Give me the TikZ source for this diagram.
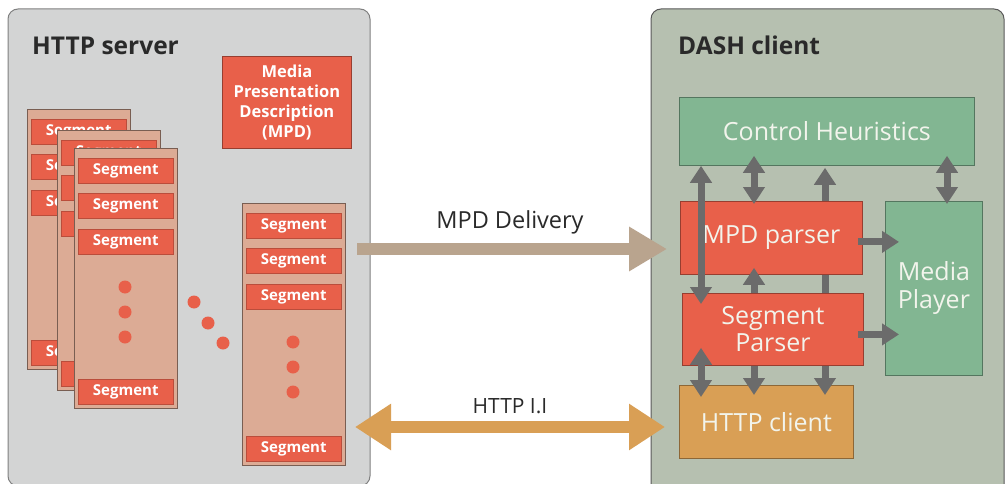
\documentclass[tikz,border=0pt]{standalone}
\usepackage{fontspec}
\setmainfont{Open Sans}
\usetikzlibrary{arrows.meta,positioning}

\definecolor{srvgray}{HTML}{D3D4D4}
\definecolor{cltgreen}{HTML}{B6C0B0}
\definecolor{segred}{HTML}{E8604A}
\definecolor{stacktan}{HTML}{DCAB95}
\definecolor{dlvtan}{HTML}{B9A48E}
\definecolor{httpgold}{HTML}{D99F55}
\definecolor{ctrlgreen}{HTML}{82B692}
\definecolor{arrgray}{HTML}{6B6B6B}
\definecolor{inkgray}{HTML}{2A2A2A}
\definecolor{paper}{HTML}{F2F4EC}

\tikzset{
  title/.style={anchor=base west, inner sep=0pt, text=inkgray, font=\bfseries\fontsize{24.5}{24.5}\selectfont},
  stackbox/.style={draw=stacktan!55!black, line width=0.8pt, fill=stacktan, minimum width=103pt, minimum height=260pt, inner sep=0pt, anchor=north west},
  segbox/.style={draw=segred!80!black, line width=0.5pt, fill=segred, text=white, font=\bfseries\fontsize{15}{15}\selectfont, minimum width=95pt, minimum height=25pt, inner sep=0pt, anchor=north west},
  block/.style={draw=#1!65!black, line width=0.8pt, fill=#1, text=paper, inner sep=0pt, anchor=north west, align=center, font=\fontsize{25}{28}\selectfont},
  wire/.style={draw=arrgray, line width=7pt, -{Triangle[length=17pt,width=21pt]}},
  wires/.style={draw=arrgray, line width=7pt, {Triangle[length=17pt,width=21pt]}-{Triangle[length=17pt,width=21pt]}},
  label/.style={text=inkgray, inner sep=0pt, font=\fontsize{22}{22}\selectfont}
}

% one column of segments: name, x, y of its top left corner
\newcommand{\segstack}[4][260]{%
  \node[stackbox, minimum height=#1pt] (#2) at (#3,#4) {};
  \foreach \off/\k in {10/1,45/2,81/3}
    \node[segbox] (#2s\k) at ([shift={(4,\off)}]#2.north west) {Segment};
  \node[segbox] (#2s4) at ([shift={(4,#1-29)}]#2.north west) {Segment};
  \foreach \off in {139,164,189}
    \fill[segred] ([shift={(51,\off)}]#2.north west) circle (6.5pt);
}

\begin{document}
\begin{tikzpicture}[x=1pt, y=-1pt]
    \useasboundingbox (0,0) rectangle (1006,484);
    \clip (0,0) rectangle (1006,484);
    \fill[white] (0,0) rectangle (1006,484);

    % Server and client panels
    \draw[fill=srvgray, draw=gray, line width=1pt, rounded corners=10pt] (8,9) rectangle (370,486);
    \draw[fill=cltgreen, draw=gray!70!black, line width=1pt, rounded corners=10pt] (651,9) rectangle (1004,500);
    \node[title] (srvtitle) at (32,55) {HTTP server};
    \node[title] (clttitle) at (678,55) {DASH client};

    % Stored representations
    \segstack{repa}{27}{109}
    \segstack{repb}{57}{130}
    \segstack{repc}{74}{148}
    \foreach \px/\py in {194/302,208/323,223/343}
        \fill[segred] (\px,\py) circle (6.5pt);
    \segstack[262]{repn}{242}{203}

    % Manifest
    \node[block=segred, text=white, minimum width=129pt, minimum height=92pt, font=\bfseries\fontsize{16.5}{20}\selectfont]
        (mpd) at (222,56) {Media\\Presentation\\Description\\(MPD)};

    % Client modules
    \node[block=ctrlgreen, minimum width=295pt, minimum height=68pt] (ctrl) at (679,97) {Control Heuristics};
    \node[block=ctrlgreen, minimum width=97pt, minimum height=174pt] (player) at (885,201) {Media\\Player};
    \node[block=httpgold, minimum width=174pt, minimum height=73pt] (httpc) at (679,385) {HTTP client};

    \coordinate (colA) at (701,0);
    \coordinate (colB) at (754,0);
    \coordinate (colC) at (825,0);
    \coordinate (colD) at (947,0);

    % this one runs behind both parsers
    \draw[wires, shorten <=2pt, shorten >=-10pt] (ctrl.south -| colC) -- (httpc.north -| colC);

    \node[block=segred, minimum width=182pt, minimum height=73pt] (mpdp) at (680,201) {MPD parser};
    \node[block=segred, minimum width=181pt, minimum height=72pt, font=\fontsize{25}{27}\selectfont] (segp) at (682,293) {Segment\\Parser};

    % Links between modules
    \draw[wires, shorten >=-11pt] (ctrl.south -| colA) -- (segp.north -| colA);
    \draw[wires, shorten <=-10pt, shorten >=-3pt] (ctrl.south -| colB) -- (mpdp.north -| colB);
    \draw[wires, shorten <=-10pt, shorten >=-3pt] (ctrl.south -| colD) -- (player.north -| colD);
    \draw[wire, shorten >=-7pt] (segp.north -| colB) -- (mpdp.south -| colB);
    \draw[wires, shorten <=-18pt, shorten >=-12pt] (segp.south -| colA) -- (httpc.north -| colA);
    \draw[wire, shorten >=-10pt] (segp.south -| colB) -- (httpc.north -| colB);
    \draw[wire, shorten <=-5pt, shorten >=-14pt] ([yshift=-4pt]mpdp.east) -- ([yshift=-4pt]mpdp.east -| player.west);
    \draw[wire, shorten <=-6pt, shorten >=-14pt] ([yshift=-5pt]segp.east) -- ([yshift=-5pt]segp.east -| player.west);

    % Transfers between server and client
    \coordinate (dlvA) at (357,249);
    \coordinate (dlvB) at (667,249);
    \coordinate (reqA) at (355,427);
    \coordinate (reqB) at (665,427);
    \draw[draw=dlvtan, line width=12pt, -{Triangle[length=38pt,width=42pt]}] (dlvA) -- (dlvB);
    \draw[draw=httpgold, line width=12pt, {Triangle[length=36pt,width=44pt]}-{Triangle[length=36pt,width=44pt]}] (reqA) -- (reqB);
    \node[label, font=\fontsize{23.5}{23.5}\selectfont] (dlvlbl) at (510,222) {MPD Delivery};
    \node[label, font=\fontsize{21}{21}\selectfont] (reqlbl) at (510,406) {HTTP I.I};
\end{tikzpicture}
\end{document}
